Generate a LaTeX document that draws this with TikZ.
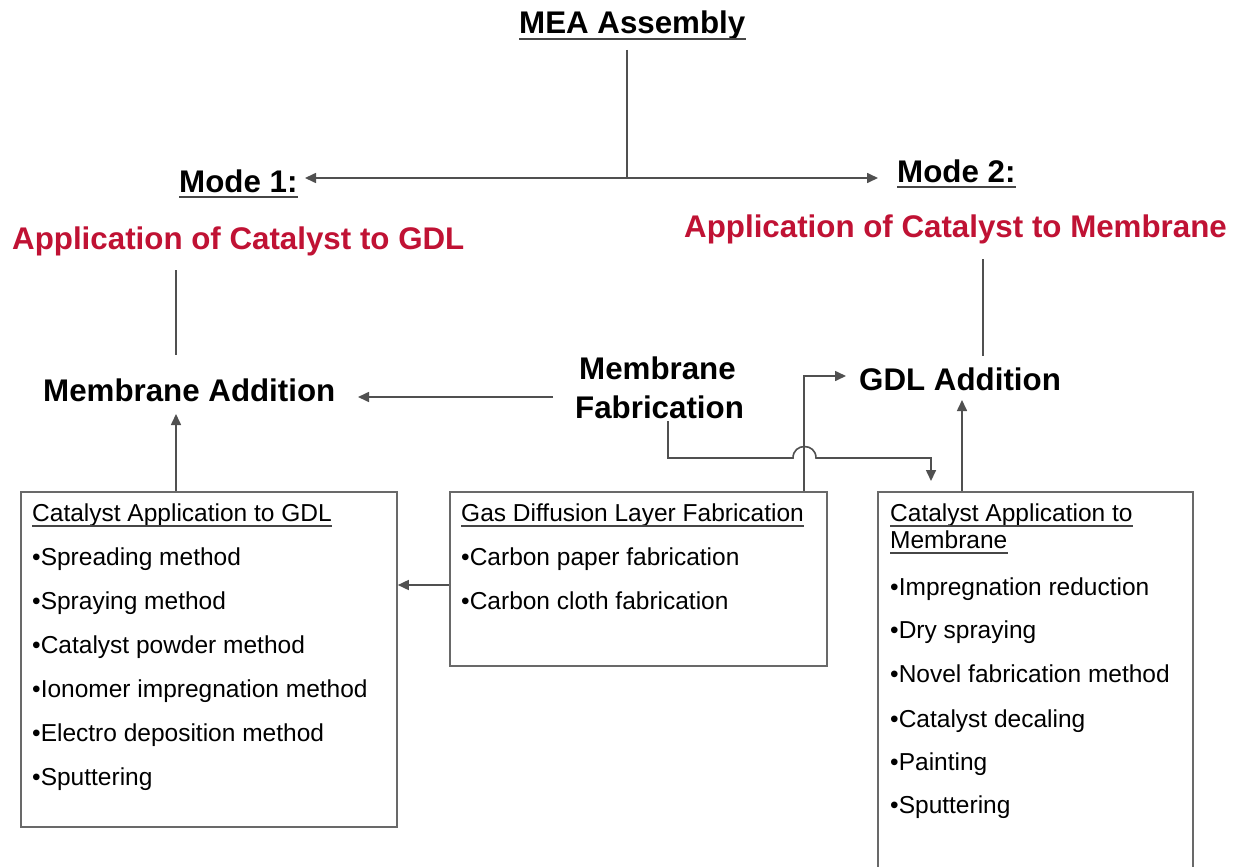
\documentclass[tikz,border=0pt]{standalone}
\usepackage{fontspec}
\setmainfont{Liberation Sans}
\usetikzlibrary{arrows.meta}
\definecolor{crim}{RGB}{192,18,52}
\definecolor{lncol}{RGB}{80,80,80}
\definecolor{bxcol}{RGB}{105,105,105}
\definecolor{ulcol}{RGB}{70,70,70}
\begin{document}
\begin{tikzpicture}[x=1pt,y=-1pt,
  big/.style={font=\fontsize{31.3}{34}\selectfont\bfseries, inner sep=0pt, anchor=base west},
  redt/.style={big, text=crim},
  small/.style={font=\fontsize{24.5}{28}\selectfont, inner sep=0pt, anchor=base west},
  ulbig/.style={draw=ulcol, line width=2.6pt},
  ulsmall/.style={draw=ulcol, line width=1.6pt},
  conn/.style={draw=lncol, line width=1.6pt},
  arr/.style={conn, -{Triangle[length=11pt,width=10pt]}},
  boxst/.style={draw=bxcol, line width=1.8pt, fill=white, inner sep=0pt, anchor=north west}]
\clip (0,0) rectangle (1239,867);
\fill[white] (0,0) rectangle (1239,867);

% titles
\node[big] (mea) at (519,34) {MEA Assembly};
\draw[ulbig] ([yshift=-5pt]mea.base west) -- ([yshift=-5pt]mea.base east);
\node[big] (mode1) at (179,192) {Mode 1:};
\draw[ulbig] ([yshift=-5pt]mode1.base west) -- ([yshift=-5pt]mode1.base east);
\node[big] (mode2) at (897,182) {Mode 2:};
\draw[ulbig] ([yshift=-5pt]mode2.base west) -- ([yshift=-5pt]mode2.base east);
\node[redt] (red1) at (12,249) {Application of Catalyst to GDL};
\node[redt] (red2) at (684,237) {Application of Catalyst to Membrane};

\node[big] (madd) at (43,401) {Membrane Addition};
\node[big] (gdladd) at (859,390) {GDL Addition};
\node[big] (mfabA) at (579,379) {Membrane};
\node[big] (mfabB) at (575,418) {Fabrication};

% boxes
\node[boxst, minimum width=376pt, minimum height=335pt] (lbox) at (20,491) {};
\node[boxst, minimum width=377pt, minimum height=174pt] (mbox) at (449,491) {};
\node[boxst, minimum width=315pt, minimum height=420pt] (rbox) at (877,491) {};

% left box text
\node[small] (lh) at (32,521) {Catalyst Application to GDL};
\draw[ulsmall] ([yshift=-5pt]lh.base west) -- ([yshift=-5pt]lh.base east);
\node[small] (l1) at (32,565) {•Spreading method};
\node[small] (l2) at (32,609) {•Spraying method};
\node[small] (l3) at (32,653) {•Catalyst powder method};
\node[small] (l4) at (32,697) {•Ionomer impregnation method};
\node[small] (l5) at (32,741) {•Electro deposition method};
\node[small] (l6) at (32,785) {•Sputtering};

% middle box text
\node[small] (mh) at (461,521) {Gas Diffusion Layer Fabrication};
\draw[ulsmall] ([yshift=-5pt]mh.base west) -- ([yshift=-5pt]mh.base east);
\node[small] (m1) at (461,565) {•Carbon paper fabrication};
\node[small] (m2) at (461,609) {•Carbon cloth fabrication};

% right box text
\node[small] (rh1) at (890,521) {Catalyst Application to};
\draw[ulsmall] ([yshift=-5pt]rh1.base west) -- ([yshift=-5pt]rh1.base east);
\node[small] (rh2) at (890,548) {Membrane};
\draw[ulsmall] ([yshift=-5pt]rh2.base west) -- ([yshift=-5pt]rh2.base east);
\node[small] (r1) at (890,595) {•Impregnation reduction};
\node[small] (r2) at (890,638) {•Dry spraying};
\node[small] (r3) at (890,682) {•Novel fabrication method};
\node[small] (r4) at (890,727) {•Catalyst decaling};
\node[small] (r5) at (890,770) {•Painting};
\node[small] (r6) at (890,813) {•Sputtering};

% connector coordinates
\coordinate (meab) at (627,50);
\coordinate (split) at (627,178);
\coordinate (m1tip) at (305,178);
\coordinate (m2tip) at (878,178);
\coordinate (red1b) at (176,270);
\coordinate (maddt) at (176,355);
\coordinate (red2b) at (983,259);
\coordinate (gdlt) at (983,356);
\coordinate (mfl) at (553,397);
\coordinate (maddr) at (358,397);
\coordinate (maddb) at (176,414);
\coordinate (gdlb) at (962,400);
\coordinate (gdll) at (846,376);
\coordinate (mfb) at (668,421);
\coordinate (rtop) at (931,481);

% connectors
\draw[conn] (meab) -- (split);
\draw[arr] (split) -- (m1tip);
\draw[arr] (split) -- (m2tip);
\draw[conn] (red1b) -- (maddt);
\draw[conn] (red2b) -- (gdlt);
\draw[arr] (mfl) -- (maddr);
\draw[arr] (lbox.north -| maddb) -- (maddb);
\draw[arr] (rbox.north -| gdlb) -- (gdlb);
\draw[arr] (mbox.west |- 0,585) -- (lbox.east |- 0,585);
\draw[arr] (mbox.north -| 804,0) -- (804,376) -- (gdll);
\draw[arr] (mfb) -- (668,458) -- (793,458) .. controls (793,442.7) and (816,442.7) .. (816,458) -- (931,458) -- (rtop);
\end{tikzpicture}
\end{document}
